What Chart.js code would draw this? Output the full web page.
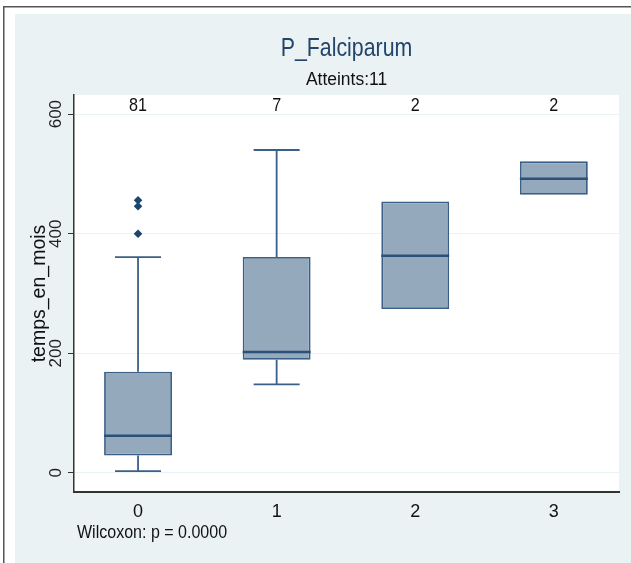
<!DOCTYPE html>
<html><head><meta charset="utf-8">
<script src="https://cdn.jsdelivr.net/npm/chart.js@4"></script>
<style>html,body{margin:0;padding:0;background:#fff}canvas{display:block}</style>
</head><body>
<canvas id="c" width="631" height="563"></canvas>
<script>
// ---- data ----
const groups = [0, 1, 2, 3];
const groupLabels = ['0', '1', '2', '3'];
const counts = ['81', '7', '2', '2'];
const lowerWhisker = [3, 148, 274, 465];
const q1 = [29, 189, 274, 465];
const median = [62, 202, 363, 492];
const q3 = [169, 361, 454, 521];
const upperWhisker = [361, 540, 454, 521];
const outlierGroup = [0, 0, 0];
const outlierValue = [400, 446, 456];
const yTicks = [0, 200, 400, 600];
const titleText = 'P_Falciparum';
const subtitleText = 'Atteints:11';
const yTitle = 'temps_en_mois';
const noteText = 'Wilcoxon: p = 0.0000';

// ---- styles ----
const REG = "'Liberation Sans', Arial, sans-serif";
const BOX_FILL = '#94a9bb';
const BOX_LINE = '#3b6087';
const MED_LINE = '#2b5179';
const NAVY = '#1a476f';
const BOX_HALF = 0.245;   // half box width in category units
const CAP_HALF = 0.166;   // half whisker-cap width in category units

// build segment lists from the data
const medianSeg = [];
groups.forEach((g, i) => {
  medianSeg.push({x: g - BOX_HALF, y: median[i]}, {x: g + BOX_HALF, y: median[i]}, {x: g, y: null});
});
const whiskerSeg = [];
groups.forEach((g, i) => {
  if (upperWhisker[i] > q3[i]) {
    whiskerSeg.push({x: g, y: q3[i]}, {x: g, y: upperWhisker[i]}, {x: g, y: null});
    whiskerSeg.push({x: g - CAP_HALF, y: upperWhisker[i]}, {x: g + CAP_HALF, y: upperWhisker[i]}, {x: g, y: null});
  }
  if (lowerWhisker[i] < q1[i]) {
    whiskerSeg.push({x: g, y: q1[i]}, {x: g, y: lowerWhisker[i]}, {x: g, y: null});
    whiskerSeg.push({x: g - CAP_HALF, y: lowerWhisker[i]}, {x: g + CAP_HALF, y: lowerWhisker[i]}, {x: g, y: null});
  }
});

const bgPlugin = {
  id: 'bg',
  beforeDraw(chart) {
    const {ctx, chartArea: a, width, height} = chart;
    ctx.save();
    ctx.fillStyle = '#ffffff';
    ctx.fillRect(0, 0, width, height);
    ctx.fillStyle = '#eaf2f3';
    ctx.fillRect(15, 14, width - 15, height - 14);
    ctx.strokeStyle = '#555';
    ctx.lineWidth = 1.5;
    ctx.beginPath();
    ctx.moveTo(3.75, height); ctx.lineTo(3.75, 6.75); ctx.lineTo(width, 6.75);
    ctx.stroke();
    ctx.fillStyle = '#ffffff';
    ctx.fillRect(a.left, a.top, a.right - a.left, a.bottom - a.top);
    ctx.restore();
  }
};

// draw text condensed horizontally (the reference uses a narrow face)
function narrowText(ctx, text, x, y, sx, align) {
  ctx.save();
  ctx.translate(x, y);
  ctx.scale(sx, 1);
  ctx.textAlign = align;
  ctx.fillText(text, 0, 0);
  ctx.restore();
}

const textPlugin = {
  id: 'texts',
  afterDraw(chart) {
    const {ctx, chartArea: a, scales} = chart;
    ctx.save();
    ctx.textBaseline = 'middle';
    const cx = (a.left + a.right) / 2;
    ctx.fillStyle = '#24456b';
    ctx.font = '26px ' + REG;
    narrowText(ctx, titleText, cx, 49, 0.82, 'center');
    ctx.fillStyle = '#111';
    ctx.font = '18px ' + REG;
    narrowText(ctx, subtitleText, cx, 80, 0.97, 'center');
    ctx.font = '19px ' + REG;
    groups.forEach((g, i) => {
      narrowText(ctx, counts[i], scales.x.getPixelForValue(g), a.top + 11, 0.85, 'center');
    });
    ctx.font = '18px ' + REG;
    narrowText(ctx, noteText, a.left + 3, 533, 0.89, 'left');
    ctx.restore();
  }
};

new Chart(document.getElementById('c'), {
  type: 'bar',
  data: {
    datasets: [
      {
        type: 'line', label: 'median', data: medianSeg, order: 0,
        borderColor: MED_LINE, borderWidth: 2.5, pointRadius: 0, spanGaps: false, fill: false
      },
      {
        type: 'scatter', label: 'outliers', order: 1,
        data: outlierGroup.map((g, k) => ({x: g, y: outlierValue[k]})),
        pointStyle: 'rectRot', pointRadius: 4.3, backgroundColor: NAVY, borderColor: NAVY, borderWidth: 0
      },
      {
        type: 'line', label: 'whiskers', data: whiskerSeg, order: 2,
        borderColor: BOX_LINE, borderWidth: 1.8, pointRadius: 0, spanGaps: false, fill: false
      },
      {
        type: 'bar', label: 'box', order: 3,
        data: groups.map((g, i) => ({x: g, y: [q1[i], q3[i]]})),
        backgroundColor: BOX_FILL, borderColor: BOX_LINE, borderWidth: 1.8, borderSkipped: false,
        categoryPercentage: 1, barPercentage: 0.49
      }
    ]
  },
  options: {
    responsive: false,
    animation: false,
    devicePixelRatio: 1,
    layout: {padding: {top: 95, right: 12, left: 0, bottom: 0}},
    plugins: {legend: {display: false}, tooltip: {enabled: false}, title: {display: false}},
    scales: {
      x: {
        type: 'linear', min: -0.462, max: 3.47, offset: false,
        afterBuildTicks: s => { s.ticks = groups.map(v => ({value: v})); },
        afterFit: s => { s.height = 71; },
        grid: {display: false, drawTicks: false, offset: false},
        border: {display: true, color: '#333', width: 2},
        ticks: {
          padding: 9, color: '#111', font: {family: REG, size: 18},
          callback: v => groupLabels[groups.indexOf(v)]
        },
        title: {display: false}
      },
      y: {
        type: 'linear', min: -32, max: 632,
        afterBuildTicks: s => { s.ticks = yTicks.map(v => ({value: v})); },
        afterFit: s => { s.width = 74; },
        grid: {color: '#eaf2f3', lineWidth: 1, tickColor: '#333', tickLength: 6, drawTicks: true},
        border: {display: true, color: '#333', width: 1.5},
        ticks: {
          minRotation: 90, maxRotation: 90, crossAlign: 'center', padding: -2, autoSkip: false,
          color: '#222', font: {family: REG, size: 17}
        },
        title: {display: true, text: yTitle, color: '#111',
                font: {family: REG, size: 19.5}, padding: {top: 28, bottom: 0}}
      }
    }
  },
  plugins: [bgPlugin, textPlugin]
});
</script>
</body></html>
